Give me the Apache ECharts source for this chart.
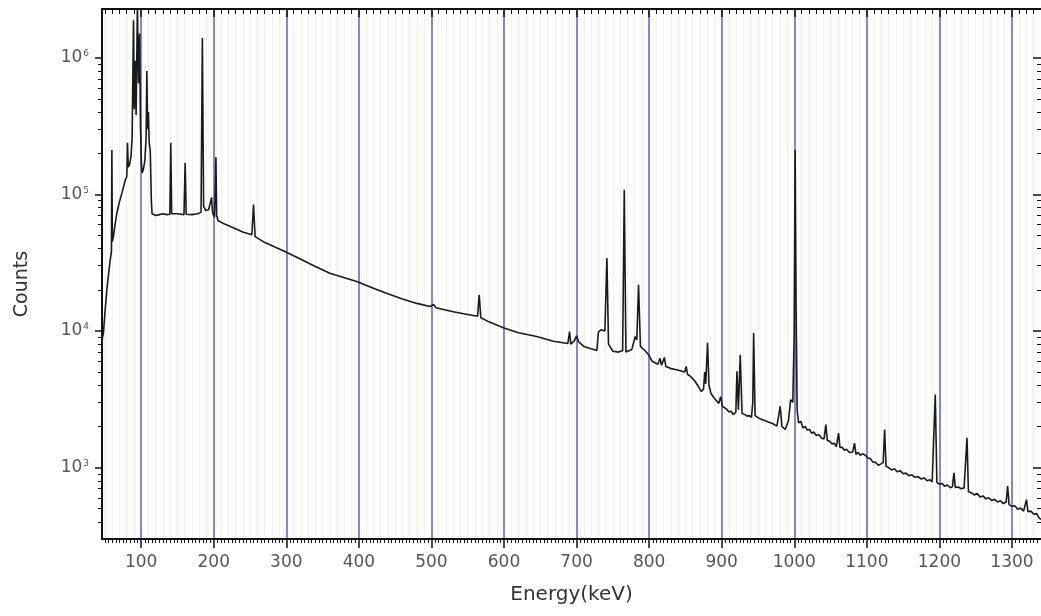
<!DOCTYPE html>
<html><head><meta charset="utf-8">
<script src="https://cdn.jsdelivr.net/npm/echarts@6/dist/echarts.min.js"></script>
<style>html,body{margin:0;padding:0;background:#fff;}#c{width:1041px;height:616px;}</style>
</head><body><div id="c"></div>
<script>
// Spectrum (energy in keV, counts)
const energyKeV = [
46.5,48,50,52.7,55,57.3,59,59.6,60.3,62,64,66.5,70,73.4,76,78,80.2,81.1,82.2,84,86,87.5,89.4,90.4,91.8,93,94.8,96.3,97.8,99,100.3,101.3,103,105,106.8,107.8,108.8,110,111,112.5,114,115,117,
120,125,130,135,139.5,140.8,142,150,159,160.6,162,170,178,182.5,184.3,186,189,193,195,197,198.5,201,202.2,203,204,206,
215,227,240,252.5,254.8,257,270,285,298,320,340,360,380,397,420,440,460,480,498,503,506,530,550,563.5,565.8,568,580,600,620,645,668,688,690.3,692,697,700,703,710,720,728,730,734,739,741.8,744,750,758,763.5,765.7,768,776,780.8,783,785.4,788,795,800,804,812,815,817,821,823,830,838,849,851,853,857,863,868,872,875,876.5,878,880.5,882.5,885,890,896,898.5,901,906,910,913,916,919.5,921,923,925.5,928,932,935,938,941,942.8,944,946,950,955,960,965,970,976,978.5,980.6,983,987.5,992,995,998,999.8,1001.2,1002.5,1004,
1006,1009,1012,1015,1018,1021,1024,1027,1030,1034,1038,1041,1042.5,1043.5,1045.5,1049,1052,1055,1058,1059.5,1061,1063,1066,1069,1072,1076,1080.5,1083,1085,1088,1091,1094,1098,1101,1105,1108,1112,1116,1119,1122.5,1124.5,1126.5,1130,1134,1138,1142,1146,1150,1154,1158,1162,1166,1170,1175,1179,1183,1187,1190,1192.5,1194.3,1196.5,1200,1204,1207,1211,1215,1218,1220,1222,1226,1230,1234,1236.5,1238,1240,1244,1248,1252,1256,1260,1264,1268,1272,1276,1280,1284,1288,1292,1294,1296,1300,1304,1308,1312,1316,1318.5,1320,1322,1326,1330,1334,1337,1340
];
const counts = [
8800,9700,13500,20000,26000,33000,38000,211000,45000,50000,60000,73000,88000,102000,115000,127000,135000,238000,158000,165000,190000,260000,1880000,420000,950000,380000,2400000,650000,1500000,320000,170000,143000,152000,175000,260000,800000,300000,400000,240000,210000,90000,72000,70500,
70000,71000,72000,71000,71500,238000,72000,72000,71000,170000,71500,71000,72000,74000,1390000,82000,76000,77000,78000,95000,73000,68000,110000,187000,70000,64000,
60500,56800,53000,50500,84000,49000,44500,41000,38100,33500,29600,26400,24500,23000,20500,18700,17100,15900,15100,15600,14800,13800,13200,12800,18400,12500,11600,10500,9700,9100,8400,8100,9900,8000,8500,9200,8300,7700,7400,7200,9800,10200,10000,34100,8000,7100,7000,7200,107700,7000,7300,9100,8600,21800,7700,7100,6600,6000,5700,6300,5600,6400,5500,5300,5200,5000,5500,4800,4650,4300,3900,3600,3750,5000,4100,8200,4000,3500,3200,2950,3300,2800,2700,2550,2580,2440,2550,5060,2650,6700,2500,2440,2380,2400,2330,3000,9660,2400,2320,2250,2200,2150,2100,2010,2400,2810,2000,1900,2200,3140,3000,9000,211000,15000,2600,
2120,2180,1950,2000,1880,1900,1780,1820,1720,1740,1640,1620,1580,2060,1580,1560,1490,1510,1420,1450,1790,1400,1410,1340,1360,1290,1300,1510,1250,1290,1230,1260,1230,1180,1160,1100,1090,1040,1060,1090,1900,1020,1000,960,980,930,950,900,910,870,885,850,860,825,840,800,815,785,800,3420,780,755,765,730,745,712,725,914,715,720,700,710,690,1650,665,655,630,645,610,620,590,600,575,585,560,572,545,560,731,535,520,525,495,505,480,495,583,475,480,455,460,430,417
];
const xTickLabels = [100,200,300,400,500,600,700,800,900,1000,1100,1200,1300];
const yTickValues = [1000,10000,100000,1000000];
const yTickExponents = ['3','4','5','6'];

const X_MIN = 46, X_MAX = 1340, Y_MIN = 300, Y_MAX = 2270000;

const minor5 = [], minor10 = [];
for (let v = 50; v <= X_MAX; v += 5) { if (v % 100 !== 0) minor5.push(v); }
for (let v = 50; v <= X_MAX; v += 10) { if (v % 100 !== 0) minor10.push(v); }
const yMinor = [];
for (let d = 100; d <= 100000; d *= 10) { for (let k = 2; k <= 9; k++) { const v = k * d; if (v > Y_MIN && v < 1000000) yMinor.push(v); } }

const FONT = 'DejaVu Sans';
const AX = '#111';
const chart = echarts.init(document.getElementById('c'), null, {renderer: 'canvas'});

function xAx(extra) {
  return Object.assign({type: 'value', min: X_MIN, max: X_MAX, axisLabel: {show: false}, splitLine: {show: false}, axisLine: {show: false}}, extra);
}
function yAx(extra) {
  return Object.assign({type: 'log', logBase: 10, min: Y_MIN, max: Y_MAX, axisLabel: {show: false}, splitLine: {show: false}, axisLine: {show: false}}, extra);
}

chart.setOption({
  animation: false,
  backgroundColor: '#ffffff',
  grid: {left: 102, right: 0, top: 9, bottom: 77, containLabel: false, outerBoundsMode: 'none', show: true, backgroundColor: '#fdfefb', borderWidth: 0},
  xAxis: [
    xAx({position: 'bottom',
      axisLine: {show: true, onZero: false, lineStyle: {color: AX, width: 2}},
      axisTick: {show: true, customValues: xTickLabels, length: 9, lineStyle: {color: AX, width: 1.5}},
      axisLabel: {show: true, customValues: xTickLabels, margin: 15, fontFamily: FONT, fontSize: 17, color: '#555',
        formatter: function (v) { return String(Math.round(v)); }},
      splitLine: {show: true, lineStyle: {color: '#8585d6', width: 2}},
      name: 'Energy(keV)', nameLocation: 'middle', nameGap: 46,
      nameTextStyle: {fontFamily: FONT, fontSize: 20, color: '#333'}}),
    xAx({position: 'bottom', axisTick: {show: true, customValues: minor5, length: 4, lineStyle: {color: AX, width: 1}}}),
    xAx({position: 'top',
      axisLine: {show: true, onZero: false, lineStyle: {color: AX, width: 2}},
      axisTick: {show: true, inside: true, customValues: minor10, length: 5, lineStyle: {color: AX, width: 1}},
      splitLine: {show: true, lineStyle: {color: '#eef0f5', width: 1}}}),
    xAx({position: 'top', axisTick: {show: true, inside: true, customValues: xTickLabels, length: 8, lineStyle: {color: AX, width: 1.5}}})
  ],
  yAxis: [
    yAx({position: 'left',
      axisLine: {show: true, onZero: false, lineStyle: {color: AX, width: 2}},
      axisTick: {show: true, customValues: yTickValues, length: 7, lineStyle: {color: AX, width: 1.5}},
      axisLabel: {show: true, customValues: yTickValues, margin: 13,
        formatter: function (v) {
          let best = 0;
          for (let i = 0; i < yTickValues.length; i++) { if (Math.abs(yTickValues[i] - v) < Math.abs(yTickValues[best] - v)) best = i; }
          return '{b|10}{s|' + yTickExponents[best] + '}';
        },
        rich: {
          b: {fontFamily: FONT, fontSize: 17, color: '#555', verticalAlign: 'middle'},
          s: {fontFamily: FONT, fontSize: 9, color: '#555', verticalAlign: 'top', padding: [0, 0, 0, 1]}
        }},
      name: 'Counts', nameLocation: 'middle', nameGap: 70,
      nameTextStyle: {fontFamily: FONT, fontSize: 19, color: '#333', padding: [0, 20, 0, 0]}}),
    yAx({position: 'left', axisTick: {show: true, customValues: yMinor, length: 4, lineStyle: {color: AX, width: 1}}}),
    yAx({position: 'right',
      axisLine: {show: true, onZero: false, lineStyle: {color: AX, width: 1}},
      axisTick: {show: true, inside: true, customValues: yTickValues, length: 8, lineStyle: {color: AX, width: 1.5}}}),
    yAx({position: 'right', axisTick: {show: true, inside: true, customValues: yMinor, length: 4, lineStyle: {color: AX, width: 1}}})
  ],
  series: [{
    type: 'line', xAxisIndex: 0, yAxisIndex: 0,
    data: energyKeV.map((e, i) => [e, counts[i]]),
    showSymbol: false, symbol: 'none', clip: true, silent: true, z: 5,
    lineStyle: {color: '#1a1a1a', width: 1.6}
  }]
});
</script></body></html>
